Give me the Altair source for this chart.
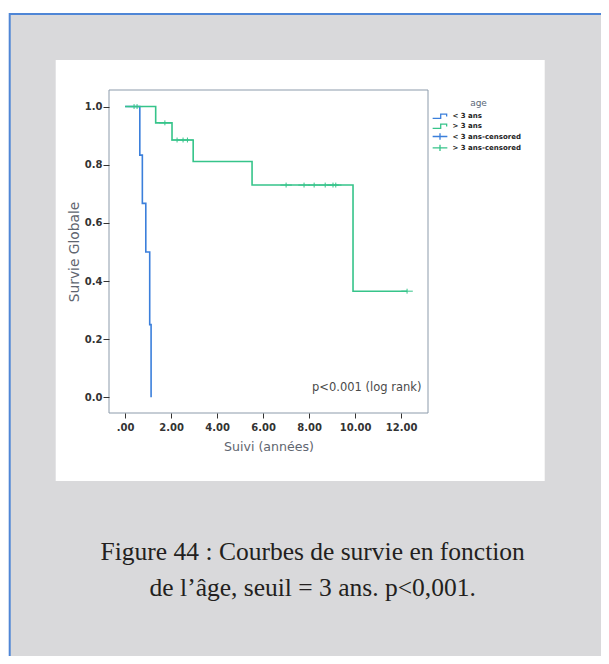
import altair as alt
import pandas as pd

# ---------------- data ----------------
blue_label = "< 3 ans"
green_label = "> 3 ans"
blue_cens_label = "< 3 ans-censored"
green_cens_label = "> 3 ans-censored"
legend_title = "age"

# Kaplan-Meier steps (time in years, survival)
blue_t = [0.0, 0.64, 0.75, 0.90, 1.07, 1.13]
blue_s = [1.0, 0.833, 0.667, 0.50, 0.25, 0.0]
green_t = [0.0, 1.33, 2.04, 2.96, 5.52, 9.91, 12.26]
green_s = [1.0, 0.944, 0.885, 0.811, 0.730, 0.365, 0.365]

# censored observations (none visible for the < 3 ans group)
blue_cens_t = []
blue_cens_s = []
green_cens_t = [0.39, 0.52, 1.73, 2.26, 2.52, 2.71, 7.00, 7.78, 8.22, 8.70, 9.04, 9.16, 12.26]
green_cens_s = [1.0, 1.0, 0.944, 0.885, 0.885, 0.885, 0.730, 0.730, 0.730, 0.730, 0.730, 0.730, 0.365]

x_ticks = [0, 2, 4, 6, 8, 10, 12]
y_ticks = [0.0, 0.2, 0.4, 0.6, 0.8, 1.0]
x_title = "Suivi (années)"
y_title = "Survie Globale"
p_text = "p<0.001 (log rank)"
caption_1 = "Figure 44 : Courbes de survie en fonction"
caption_2 = "de l’âge, seuil = 3 ans. p<0,001."

# ---------------- tables ----------------
steps = pd.DataFrame({
    "t": blue_t + green_t,
    "s": blue_s + green_s,
    "age": [blue_label] * len(blue_t) + [green_label] * len(green_t),
})
cens = pd.DataFrame({
    "t": blue_cens_t + green_cens_t,
    "s": blue_cens_s + green_cens_s,
    "age": [blue_cens_label] * len(blue_cens_t) + [green_cens_label] * len(green_cens_t),
})
one = pd.DataFrame({"k": [0]})

BLUE = "#3b7fdb"
GREEN = "#36c48a"
domain = [blue_label, green_label, blue_cens_label, green_cens_label]
colors = [BLUE, GREEN, BLUE, GREEN]
STEP = "M-2.1,0.6L0.2,0.6L0.2,-0.6L1.9,-0.6L1.9,0.1"
PLUS = "M-2.1,0L2.1,0M0,-0.9L0,0.9"
shapes = [STEP, STEP, PLUS, PLUS]

FONT = "DejaVu Sans"
W, H = 319, 323

x_scale = alt.Scale(domain=[-0.7, 13.17], nice=False, zero=False)
y_scale = alt.Scale(domain=[-0.054, 1.057], nice=False, zero=False)

x_axis = alt.Axis(
    values=x_ticks, labelExpr="datum.value == 0 ? '.00' : format(datum.value, '.2f')",
    domain=False, grid=False, tickSize=5, tickColor="#333333", tickWidth=1,
    labelFont=FONT, labelFontSize=10, labelFontWeight="bold", labelColor="#333333",
    labelPadding=4, title=x_title, titleFont=FONT, titleFontSize=12.6,
    titleFontWeight="normal", titleColor="#5f6670", titlePadding=8, zindex=2,
)
y_axis = alt.Axis(
    values=y_ticks, format=".1f", domain=False, grid=False, tickSize=6,
    tickColor="#333333", tickWidth=1, labelFont=FONT, labelFontSize=10,
    labelFontWeight="bold", labelColor="#333333", labelPadding=1,
    title=y_title, titleFont=FONT, titleFontSize=13.8, titleFontWeight="normal",
    titleColor="#5f6670", titlePadding=3, zindex=2,
)

legend = alt.Legend(
    orient="none", legendX=326.5, legendY=9, padding=0, title=legend_title,
    titleFont=FONT, titleFontSize=9, titleFontWeight="normal", titleColor="#5a6878",
    titleAnchor="middle", titleAlign="center", titlePadding=3.7,
    labelFont=FONT, labelFontSize=7, labelFontWeight="bold", labelColor="#222222",
    labelOffset=8, rowPadding=-1.7, symbolSize=49, symbolStrokeWidth=1.3,
    symbolFillColor="transparent", symbolOpacity=1,
)
color = alt.Color("age:N", scale=alt.Scale(domain=domain, range=colors), legend=legend)
shape = alt.Shape("age:N", scale=alt.Scale(domain=domain, range=shapes), legend=legend)

# ---------------- decorations ----------------
panel = alt.Chart(one).mark_rect(fill="#d9d9db", stroke="#4f86d6", strokeWidth=2).encode(
    x=alt.value(-99.3), x2=alt.value(530), y=alt.value(-76), y2=alt.value(620)
)
white = alt.Chart(one).mark_rect(fill="white").encode(
    x=alt.value(-53.3), x2=alt.value(435.7), y=alt.value(-30), y2=alt.value(391)
)
frame = alt.Chart(one).mark_rect(fill="transparent", stroke="#8c9bab", strokeWidth=1).encode(
    x=alt.value(0), x2=alt.value(W), y=alt.value(0), y2=alt.value(H)
)

lines = alt.Chart(steps).mark_line(interpolate="step-after", strokeWidth=1.6).encode(
    x=alt.X("t:Q", scale=x_scale, axis=x_axis),
    y=alt.Y("s:Q", scale=y_scale, axis=y_axis),
    color=color,
)
marks = alt.Chart(cens).mark_point(size=30, filled=False, strokeWidth=1, opacity=1).encode(
    x=alt.X("t:Q", scale=x_scale),
    y=alt.Y("s:Q", scale=y_scale),
    color=color,
    shape=shape,
)

ptext = alt.Chart(one).mark_text(
    text=p_text, font=FONT, fontSize=11.5, color="#4a4a4a", align="right", baseline="middle"
).encode(x=alt.value(312.4), y=alt.value(297.7))

cap1 = alt.Chart(one).mark_text(
    text=caption_1, font="Liberation Serif", fontSize=25.5, color="#231f20",
    align="center", baseline="alphabetic"
).encode(x=alt.value(203.7), y=alt.value(470))
cap2 = alt.Chart(one).mark_text(
    text=caption_2, font="Liberation Serif", fontSize=25.5, color="#231f20",
    align="center", baseline="alphabetic"
).encode(x=alt.value(203.7), y=alt.value(506))

chart = alt.layer(panel, white, frame, lines, marks, ptext, cap1, cap2).properties(
    width=W, height=H,
    padding={"left": 101, "top": 82, "right": 173, "bottom": 243},
    autosize=alt.AutoSizeParams(type="none"),
    background="white",
).configure_view(stroke=None)

chart.save("out.html", embed_options={"renderer": "svg", "actions": False})
